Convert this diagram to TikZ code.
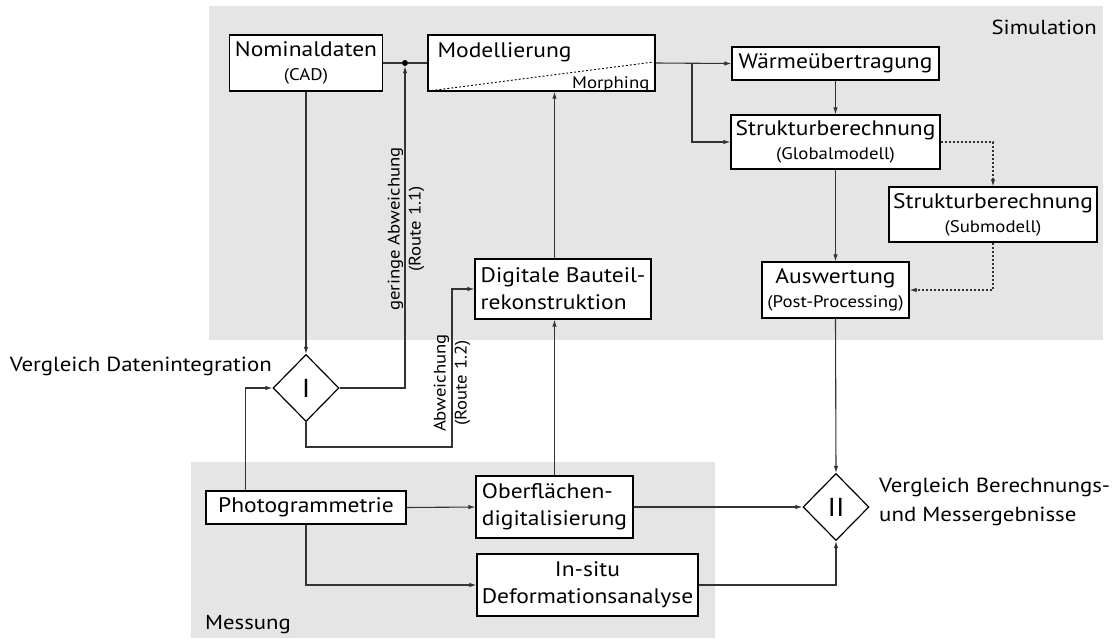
\documentclass[tikz,border=0pt]{standalone}
\usepackage{fontspec}
\setmainfont{PT Sans}[FakeStretch=1.12]
\usetikzlibrary{shapes.geometric,arrows.meta,calc}

% font sizes used in the chart
\newcommand{\bigtxt}{\fontsize{21}{24}\selectfont}
\newcommand{\smalltxt}{\fontsize{16.8}{24}\selectfont}
\newcommand{\labtxt}{\fontsize{16.7}{21}\selectfont}
\newcommand{\paneltxt}{\fontsize{20.3}{24}\selectfont}

\begin{document}
\begin{tikzpicture}[x=1pt,y=-1pt,
  box/.style={draw=black,line width=1.2pt,fill=white,inner sep=0pt,align=center,font=\bigtxt},
  twoline/.style={box,font=\fontsize{21}{27}\selectfont},
  decision/.style={diamond,draw=black,line width=1.2pt,fill=white,minimum width=66pt,minimum height=67pt,inner sep=0pt,font=\fontsize{26}{30}\selectfont},
  con/.style={draw=black!80,line width=1.1pt},
  arr/.style={con,-{Latex[length=7pt,width=4.5pt]}},
  dotcon/.style={dash pattern=on 2pt off 2pt},
  panel/.style={fill=black!10,draw=none},
  lab/.style={inner sep=0pt,font=\paneltxt}
]
\useasboundingbox (0,0) rectangle (1112,638);

% panels
\path[panel] (209,6) rectangle (1103,340);
\path[panel] (191,462) rectangle (715,638);
\node[lab,anchor=base east] (simlab) at (1097,34) {Simulation};
\node[lab,anchor=base west] (meslab) at (205,629) {Messung};

% simulation boxes
\node[box,minimum width=153pt,minimum height=56pt] (nom) at (306,63) {Nominaldaten\\\smalltxt (CAD)};
\node[box,minimum width=227pt,minimum height=56pt] (model) at (541.5,63) {};
\node[inner sep=0pt,font=\bigtxt,anchor=west] (modtxt) at ($(model.west)+(10,-11)$) {Modellierung};
\node[inner sep=0pt,anchor=base east,font=\smalltxt] (morph) at ($(model.south east)+(-6,-3)$) {Morphing};
\draw[black,line width=0.9pt,dotcon] ($(model.south west)+(4,-1)$) -- ($(model.east)+(-2,-1)$);

\node[box,minimum width=207pt,minimum height=33pt] (waerme) at (835.5,63.5) {Wärmeübertragung};
\node[box,minimum width=209pt,minimum height=54pt] (global) at (835.5,142) {Strukturberechnung\\\smalltxt (Globalmodell)};
\node[box,minimum width=208pt,minimum height=55pt] (sub) at (993,214.5) {Strukturberechnung\\\smalltxt (Submodell)};
\node[box,minimum width=147pt,minimum height=56pt] (ausw) at (835.5,290) {Auswertung\\\smalltxt (Post-Processing)};
\node[twoline,align=left,minimum width=176pt,minimum height=60pt] (digi) at (563,289) {Digitale Bauteil-\\rekonstruktion};

% measurement boxes
\node[box,minimum width=200pt,minimum height=33pt] (photo) at (306,507.5) {Photogrammetrie};
\node[twoline,align=left,minimum width=157pt,minimum height=62pt] (ober) at (554.5,507) {Oberflächen-\\digitalisierung};
\node[twoline,minimum width=221pt,minimum height=62pt] (insitu) at (587.5,585) {In-situ\\Deformationsanalyse};

% comparisons
\node[decision] (d1) at (306,388) {I};
\node[decision] (d2) at (836,507) {II};
\node[inner sep=0pt,anchor=east,font=\fontsize{20.4}{24}\selectfont] (d1lab) at (272,366) {Vergleich Datenintegration};
\node[inner sep=0pt,anchor=west,align=left,font=\fontsize{20.4}{29}\selectfont] (d2lab) at (879,502) {Vergleich Berechnungs-\\und Messergebnisse};

% junction
\node[circle,fill=black,inner sep=0pt,minimum size=6pt] (jn) at (405,63) {};
\coordinate (br) at (692,63);
\coordinate (r12) at (452,447);

% connectors
\draw[con] (nom.east) -- (jn) -- (model.west);
\draw[arr] (d1.east) -| (jn.south);
\draw[arr] (model.east) -- (waerme.west);
\draw[arr] (br) |- (global.west);
\draw[arr] (waerme.south) -- (global.north);
\draw[arr,dotcon] (global.east) -| (sub.north);
\draw[arr,dotcon] (sub.south) |- (ausw.east);
\draw[arr] (global.south) -- (ausw.north);
\draw[arr] (ausw.south) -- (d2.north);
\draw[arr] (nom.south) -- (d1.north);
\draw[arr] (d1.south) |- (r12) |- (digi.west);
\draw[arr] (ober.north) -- (ober.north |- digi.south);
\draw[arr] (ober.north |- digi.north) -- (ober.north |- model.south);
\draw[arr] ($(photo.north west)!0.2!(photo.north east)$) |- (d1.west);
\draw[arr] (photo.east) -- (ober.west);
\draw[arr] (photo.south) |- (insitu.west);
\draw[arr] (ober.east) -- (d2.west);
\draw[arr] (insitu.east) -| (d2.south);

% route labels
\node[rotate=90,align=center,inner sep=0pt,font=\labtxt] (r11lab) at (406,229) {geringe Abweichung\\(Route 1.1)};
\node[rotate=90,align=center,inner sep=0pt,font=\labtxt] (r12lab) at (452,383) {Abweichung\\(Route 1.2)};
\end{tikzpicture}
\end{document}
